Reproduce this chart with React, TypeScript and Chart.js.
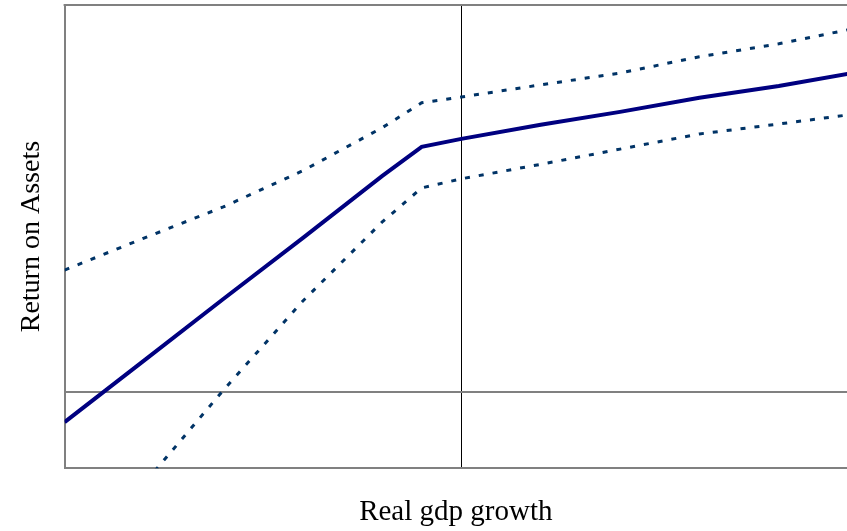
import React, { useEffect, useRef } from "react";
import { Chart, registerables } from "chart.js";

Chart.register(...registerables);

// Real gdp growth (x) grid
const growth = [-10, -8, -6, -4, -2, -1, 0, 2, 4, 6, 8, 9.75];
// Estimated return on assets
const roaEstimate = [-0.79, 0.83, 2.45, 4.05, 5.68, 6.45, 6.66, 7.03, 7.37, 7.74, 8.05, 8.37];
// Upper confidence band
const roaUpper = [3.21, 4.05, 4.87, 5.82, 6.95, 7.61, 7.76, 8.08, 8.39, 8.82, 9.16, 9.53];
// Lower confidence band
const roaLower = [-4.89, -2.41, 0.05, 2.39, 4.47, 5.37, 5.61, 5.99, 6.39, 6.79, 7.05, 7.29];

const xMin = -10;
const xMax = 9.72;
const yMin = -2;
const yMax = 10.18;

const xTitle = "Real gdp growth";
const yTitle = "Return on Assets";

const FONT = "'Liberation Serif', 'Times New Roman', serif";

const toPoints = (ys: number[]) => growth.map((x, i) => ({ x, y: ys[i] }));

const topBorder = {
  id: "topBorder",
  beforeDatasetsDraw(chart: any) {
    const { ctx, chartArea } = chart;
    ctx.save();
    ctx.strokeStyle = "#808080";
    ctx.lineWidth = 2;
    ctx.beginPath();
    ctx.moveTo(chartArea.left - 1, chartArea.top);
    ctx.lineTo(chartArea.right, chartArea.top);
    ctx.stroke();
    ctx.restore();
  },
};

export default function App() {
  const ref = useRef<HTMLCanvasElement | null>(null);

  useEffect(() => {
    if (!ref.current) return;
    const dotted = {
      borderColor: "#003366",
      borderWidth: 3,
      borderDash: [5, 9],
      pointRadius: 0,
      fill: false,
      tension: 0,
    };
    const chart = new Chart(ref.current, {
      type: "line",
      data: {
        datasets: [
          {
            label: "Upper",
            data: toPoints(roaUpper),
            ...dotted,
          },
          {
            label: "Lower",
            data: toPoints(roaLower),
            ...dotted,
          },
          {
            label: "Return on Assets",
            data: toPoints(roaEstimate),
            borderColor: "#000080",
            borderWidth: 4,
            pointRadius: 0,
            fill: false,
            tension: 0,
          },
        ],
      },
      options: {
        animation: false,
        responsive: false,
        layout: { padding: { top: 5, right: 0, bottom: 0, left: 0 } },
        plugins: {
          legend: { display: false },
          tooltip: { enabled: false },
        },
        scales: {
          x: {
            type: "linear",
            min: xMin,
            max: xMax,
            afterBuildTicks: (scale: any) => {
              scale.ticks = [{ value: 0 }];
            },
            ticks: { display: false },
            grid: {
              display: true,
              drawTicks: false,
              color: "#000000",
              lineWidth: 1,
            },
            border: { display: true, color: "#808080", width: 2 },
            title: {
              display: true,
              text: xTitle,
              color: "#000000",
              font: { family: FONT, size: 29, lineHeight: 1.2 },
              padding: { top: 27, bottom: 1 },
            },
          },
          y: {
            type: "linear",
            min: yMin,
            max: yMax,
            afterBuildTicks: (scale: any) => {
              scale.ticks = [{ value: 0 }];
            },
            ticks: { display: false },
            grid: {
              display: true,
              drawTicks: false,
              color: "#808080",
              lineWidth: 2,
            },
            border: { display: true, color: "#808080", width: 2 },
            title: {
              display: true,
              text: yTitle,
              color: "#000000",
              font: { family: FONT, size: 28, lineHeight: 1.2 },
              padding: { top: 15, bottom: 16 },
            },
          },
        },
      },
      plugins: [topBorder],
    });
    return () => chart.destroy();
  }, []);

  return (
    <div style={{ position: "fixed", left: 0, top: 0, width: 847, height: 531, background: "#fff" }}>
      <canvas ref={ref} width={847} height={531} style={{ display: "block" }} />
    </div>
  );
}
